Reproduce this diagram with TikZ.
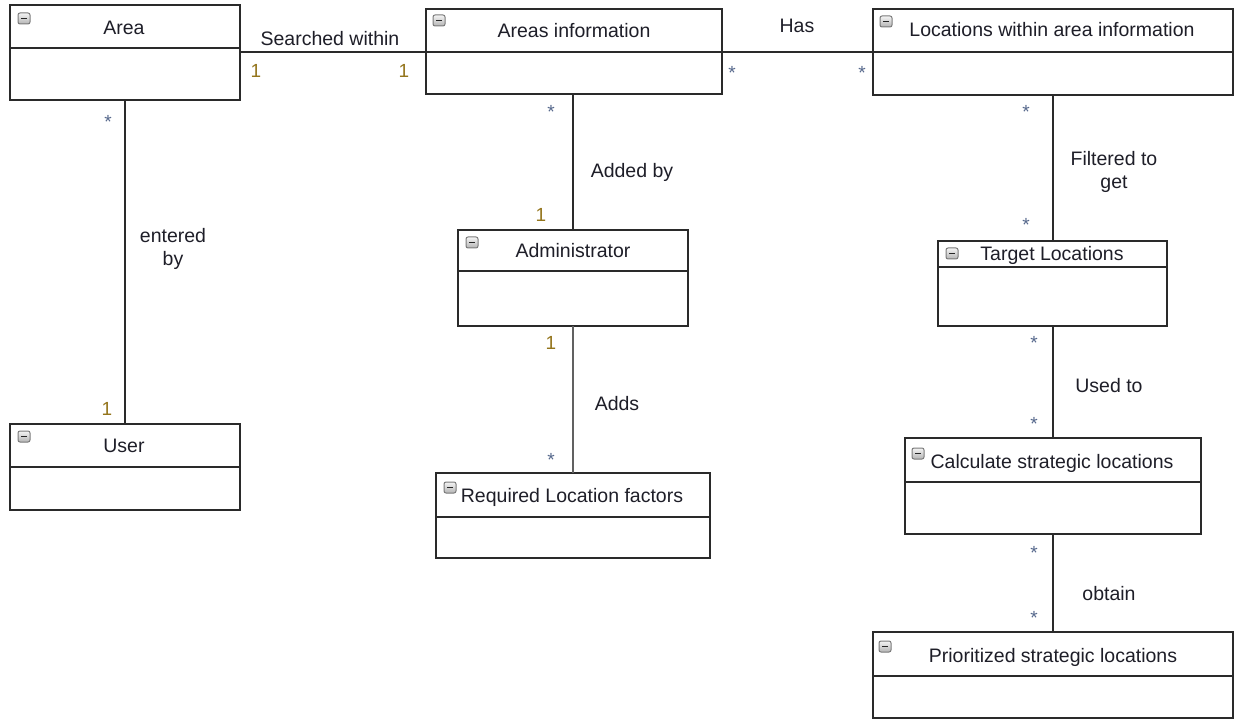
\documentclass[tikz,border=0pt]{standalone}
\usepackage{fontspec}
\setmainfont{Liberation Sans}
\usetikzlibrary{calc}

\definecolor{ink}{HTML}{1E1E28}
\definecolor{frame}{HTML}{2A2A2A}
\definecolor{multone}{HTML}{94751C}
\definecolor{multstar}{HTML}{56688C}
\definecolor{iconedge}{HTML}{7A7A7A}
\definecolor{icontop}{HTML}{F4F4F4}
\definecolor{iconbot}{HTML}{B4B4B4}

\tikzset{
  classframe/.style={draw=frame, line width=1.3pt, fill=white, rectangle,
    inner sep=0pt, outer sep=0pt},
  divider/.style={draw=frame, line width=1.3pt},
  assoc/.style={draw=frame, line width=1.3pt},
  assocgray/.style={draw=black!62, line width=2.2pt},
  title/.style={font=\fontsize{19.5}{21.5}\selectfont, text=ink, inner sep=0pt, anchor=base},
  rolename/.style={font=\fontsize{19.5}{23}\selectfont, text=ink, inner sep=0pt, align=center},
  multone/.style={font=\fontsize{19}{21}\selectfont, text=multone, inner sep=0pt, anchor=base},
  multstar/.style={font=\fontsize{19}{21}\selectfont, text=multstar, inner sep=0pt, anchor=base},
  iconbox/.style={draw=iconedge, line width=1pt, rounded corners=2pt,
    top color=icontop, bottom color=iconbot},
  iconbar/.style={draw=black!85, line width=1.8pt},
}

% class box: name, x1, y1, x2, y2, divider y
\newcommand\classbox[6]{%
  \node[classframe, minimum width={#4-#2}, minimum height={#5-#3}]
    (#1) at ({(#2+#4)/2},{(#3+#5)/2}) {};
  \coordinate (#1-dl) at (#2,#6);
  \coordinate (#1-dr) at (#4,#6);
  \draw[divider] (#1-dl) -- (#1-dr);}

% collapse icon: top-left corner x, y
\newcommand\collapseicon[2]{%
  \path[iconbox] (#1,#2) rectangle ++(12,11);
  \draw[iconbar] ({#1+3},{#2+5.5}) -- ++(6,0);}

\begin{document}
\begin{tikzpicture}[x=1pt, y=-1pt]
\useasboundingbox[fill=white] (0,0) rectangle (1235,719);

% ---- class boxes ----
\classbox{area}{10}{5}{240}{100}{48}
\classbox{ai}{426}{9}{722}{94}{52}
\classbox{loc}{873}{9}{1233}{95}{52}
\classbox{admin}{458}{230}{688}{326}{271}
\classbox{req}{436}{473}{710}{558}{517}
\classbox{user}{10}{424}{240}{510}{467}
\classbox{target}{938}{241}{1167}{326}{267}
\classbox{calc}{905}{438}{1201}{534}{482}
\classbox{prio}{873}{632}{1233}{718}{676}

% ---- collapse icons ----
\collapseicon{18}{13}
\collapseicon{433}{15}
\collapseicon{880}{16}
\collapseicon{466}{237}
\collapseicon{444}{482}
\collapseicon{18}{431}
\collapseicon{946}{248}
\collapseicon{912}{448}
\collapseicon{879}{641}

% ---- class names ----
\node[title] (area-t)   at (124,35)  {Area};
\node[title] (ai-t)     at (574,38)  {Areas information};
\node[title] (loc-t)    at (1052,37) {Locations within area information};
\node[title] (admin-t)  at (573,258) {Administrator};
\node[title] (req-t)    at (572,502) {Required Location factors};
\node[title] (user-t)   at (124,453) {User};
\node[title] (target-t) at (1052,261) {Target Locations};
\node[title] (calc-t)   at (1052,468) {Calculate strategic locations};
\node[title] (prio-t)   at (1053,662) {Prioritized strategic locations};

% ---- associations ----
\draw[assoc] (area.east |- ai-dl) -- (ai-dl);
\draw[assoc] (ai-dr) -- (loc-dl);
\draw[assoc] (area.south) -- (user.north);
\draw[assoc] (admin.north |- ai.south) -- (admin.north);
\draw[assocgray] (admin.south) -- (req.north -| admin.south);
\draw[assoc] (loc.south) -- (target.north -| loc.south);
\draw[assoc] (target.south -| loc.south) -- (calc.north -| loc.south);
\draw[assoc] (calc.south -| loc.south) -- (prio.north -| loc.south);

% ---- association names ----
\node[title] (n-search) at (330,46) {Searched within};
\node[title] (n-has)    at (797,33) {Has};
\node[rolename] (n-enter) at (173,249) {entered\\by};
\node[title] (n-addedby) at (632,178) {Added by};
\node[title] (n-adds)   at (617,410) {Adds};
\node[rolename] (n-filter) at (1114,172) {Filtered to\\get};
\node[title] (n-used)   at (1109,392) {Used to};
\node[title] (n-obtain) at (1109,600) {obtain};

% ---- multiplicities ----
\node[multone] (m1) at (256,78)  {1};
\node[multone] (m2) at (404,78)  {1};
\node[multstar] (m3) at (732,80) {*};
\node[multstar] (m4) at (862,80) {*};
\node[multstar] (m5) at (108,129) {*};
\node[multone] (m6) at (107,415) {1};
\node[multstar] (m7) at (551,119) {*};
\node[multone] (m8) at (541,222) {1};
\node[multone] (m9) at (551,350) {1};
\node[multstar] (m10) at (551,466) {*};
\node[multstar] (m11) at (1026,119) {*};
\node[multstar] (m12) at (1026,232) {*};
\node[multstar] (m13) at (1034,350) {*};
\node[multstar] (m14) at (1034,430) {*};
\node[multstar] (m15) at (1034,559) {*};
\node[multstar] (m16) at (1034,624) {*};
\end{tikzpicture}
\end{document}
